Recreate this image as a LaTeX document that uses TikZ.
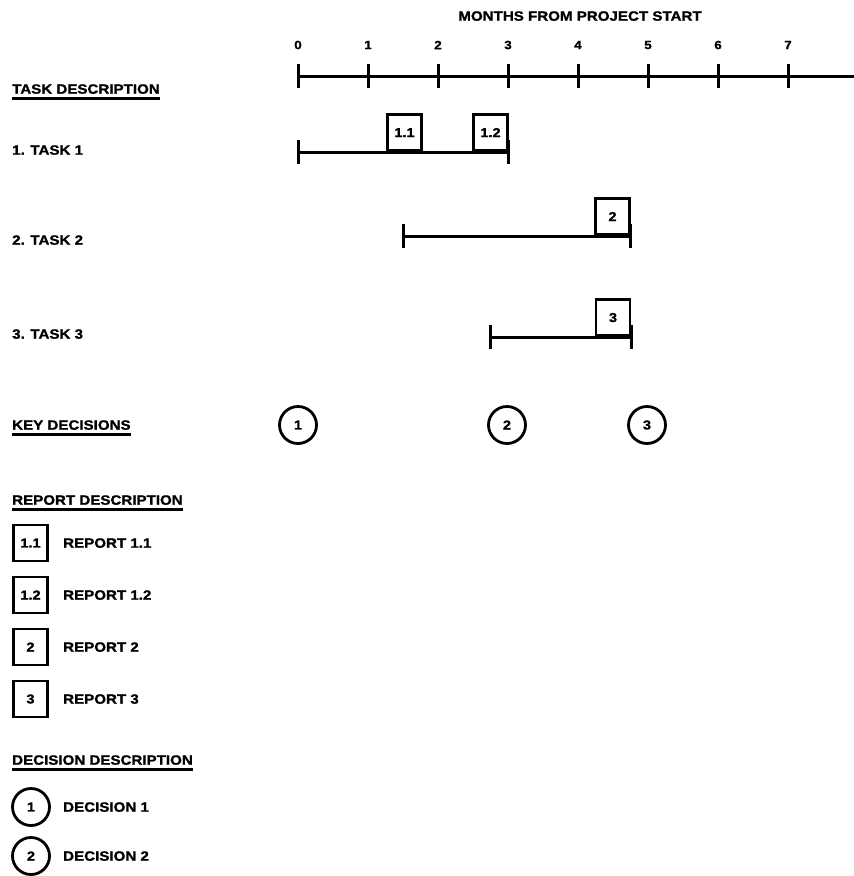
\documentclass[tikz,border=0pt]{standalone}
\usepackage{fontspec}
\setmainfont{Liberation Sans}[FakeStretch=1.12, BoldFeatures={FakeBold=1.2}]
\usetikzlibrary{calc}
\tikzset{
  lbl/.style={font=\bfseries\fontsize{13.5}{13.5}\selectfont, anchor=west, inner sep=0pt, text depth=0pt},
  ticklbl/.style={font=\bfseries\fontsize{12}{12}\selectfont, inner sep=0pt},
  repbox/.style={draw, line width=2.8pt, minimum width=34pt, minimum height=36pt, inner sep=0pt, font=\bfseries\fontsize{13}{13}\selectfont},
  decirc/.style={draw, circle, line width=2.8pt, minimum size=37pt, inner sep=0pt, font=\bfseries\fontsize{13}{13}\selectfont},
  bar/.style={line width=3pt},
  uline/.style={line width=3pt}
}
\begin{document}
\begin{tikzpicture}[x=1pt,y=-1pt]
\useasboundingbox (0,0) rectangle (854,876);
% axis
\node[lbl, anchor=center] (title) at (580,16) {MONTHS FROM PROJECT START};
\coordinate (a0) at (298,76);
\coordinate (aend) at (854,76);
\draw[bar] (a0) -- (aend);
\foreach \k in {0,...,7}{
  \coordinate (t\k) at ($(a0)+(70*\k,0)$);
  \draw[bar] ($(t\k)+(0,-12)$) -- ($(t\k)+(0,12)$);
  \node[ticklbl] (tl\k) at ($(t\k)+(0,-31)$) {\k};
}
% task description
\node[lbl] (taskd) at (12,89) {TASK DESCRIPTION};
\draw[uline] ($(taskd.south west)+(0,5)$) -- ($(taskd.south east)+(0,5)$);
\node[lbl] (task1) at (12,150) {1. TASK 1};
\node[lbl] (task2) at (12,240) {2. TASK 2};
\node[lbl] (task3) at (12,334) {3. TASK 3};
% task bars
\coordinate (b1s) at (298,152); \coordinate (b1e) at (508,152);
\coordinate (b2s) at (403,236); \coordinate (b2e) at (630,236);
\coordinate (b3s) at (490,337); \coordinate (b3e) at (631,337);
\foreach \i in {1,2,3}{
  \draw[bar] (b\i s) -- (b\i e);
  \draw[bar] ($(b\i s)+(0,-12)$) -- ($(b\i s)+(0,12)$);
  \draw[bar] ($(b\i e)+(0,-12)$) -- ($(b\i e)+(0,12)$);
}
\node[repbox, anchor=south] (r11) at (404.5,152) {1.1};
\node[repbox, anchor=south] (r12) at (490.5,152) {1.2};
\node[repbox, anchor=south] (r2) at (612.5,236) {2};
\node[repbox, anchor=south] (r3) at (613,337) {3};
% key decisions
\node[lbl] (keyd) at (12,425) {KEY DECISIONS};
\draw[uline] ($(keyd.south west)+(0,5)$) -- ($(keyd.south east)+(0,5)$);
\node[decirc] (d1) at (298,425) {1};
\node[decirc] (d2) at (507,425) {2};
\node[decirc] (d3) at (647,425) {3};
% report description
\node[lbl] (repd) at (12,500) {REPORT DESCRIPTION};
\draw[uline] ($(repd.south west)+(0,5)$) -- ($(repd.south east)+(0,5)$);
\node[repbox] (l11) at (30.5,543) {1.1};
\node[lbl] (lt11) at (63,543) {REPORT 1.1};
\node[repbox] (l12) at (30.5,595) {1.2};
\node[lbl] (lt12) at (63,595) {REPORT 1.2};
\node[repbox] (l2) at (30.5,647) {2};
\node[lbl] (lt2) at (63,647) {REPORT 2};
\node[repbox] (l3) at (30.5,699) {3};
\node[lbl] (lt3) at (63,699) {REPORT 3};
% decision description
\node[lbl] (decd) at (12,760) {DECISION DESCRIPTION};
\draw[uline] ($(decd.south west)+(0,5)$) -- ($(decd.south east)+(0,5)$);
\node[decirc] (ld1) at (31,807) {1};
\node[lbl] (ldt1) at (63,807) {DECISION 1};
\node[decirc] (ld2) at (31,856) {2};
\node[lbl] (ldt2) at (63,856) {DECISION 2};
\end{tikzpicture}
\end{document}
